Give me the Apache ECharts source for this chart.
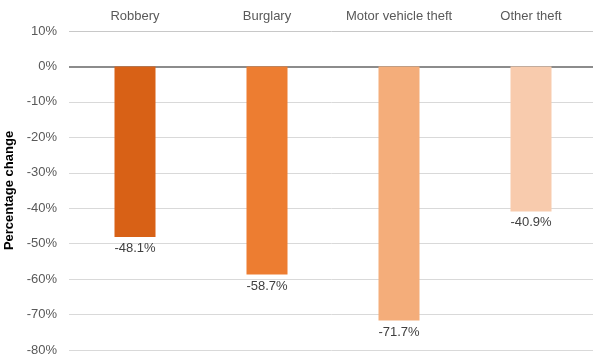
<!DOCTYPE html>
<html>
<head>
<meta charset="utf-8">
<script src="https://cdn.jsdelivr.net/npm/echarts@6/dist/echarts.min.js"></script>
<style>
  html, body { margin: 0; padding: 0; background: #fff; }
  #chart { width: 593px; height: 360px; }
</style>
</head>
<body>
<div id="chart"></div>
<script>
// Percentage change by offence type
const categories = ['Robbery', 'Burglary', 'Motor vehicle theft', 'Other theft'];
const changes = [-48.1, -58.7, -71.7, -40.9];
const barColors = ['#d86116', '#ed7d31', '#f4ad7a', '#f8cbad'];

const chart = echarts.init(document.getElementById('chart'), null, { renderer: 'canvas' });

chart.setOption({
  animation: false,
  backgroundColor: '#ffffff',
  textStyle: { fontFamily: 'Liberation Sans, Arial, sans-serif' },
  grid: {
    left: 69, right: -4, top: 31, bottom: 10,
    containLabel: false,
    outerBoundsMode: 'none'
  },
  xAxis: {
    type: 'category',
    position: 'top',
    data: categories,
    axisLine: { show: false },
    axisTick: { show: false },
    axisLabel: { color: '#595959', fontSize: 13, margin: 8, interval: 0 }
  },
  yAxis: {
    type: 'value',
    min: -80,
    max: 10,
    interval: 10,
    name: 'Percentage change',
    nameLocation: 'middle',
    nameGap: 49,
    nameRotate: 90,
    nameTextStyle: { color: '#000000', fontSize: 13, fontWeight: 'bold' },
    axisLine: { show: false },
    axisTick: { show: false },
    axisLabel: {
      color: '#595959',
      fontSize: 13,
      margin: 12,
      formatter: v => v + '%'
    },
    splitLine: {
      lineStyle: {
        color: ['#d9d9d9', '#d9d9d9', '#d9d9d9', '#d9d9d9', '#d9d9d9',
                '#d9d9d9', '#d9d9d9', '#d9d9d9', '#d9d9d9', '#c8c8c8'],
        width: 1
      }
    }
  },
  series: [{
    type: 'bar',
    barWidth: 41,
    data: changes.map((v, i) => ({ value: v, itemStyle: { color: barColors[i] } })),
    label: {
      show: true,
      position: 'bottom',
      distance: 5,
      color: '#404040',
      fontSize: 13,
      formatter: p => p.value.toFixed(1) + '%'
    },
    markLine: {
      silent: true,
      symbol: 'none',
      z: 1,
      label: { show: false },
      lineStyle: { color: '#8c8c8c', width: 2, type: 'solid' },
      data: [{ yAxis: 0 }]
    }
  }]
});
</script>
</body>
</html>
